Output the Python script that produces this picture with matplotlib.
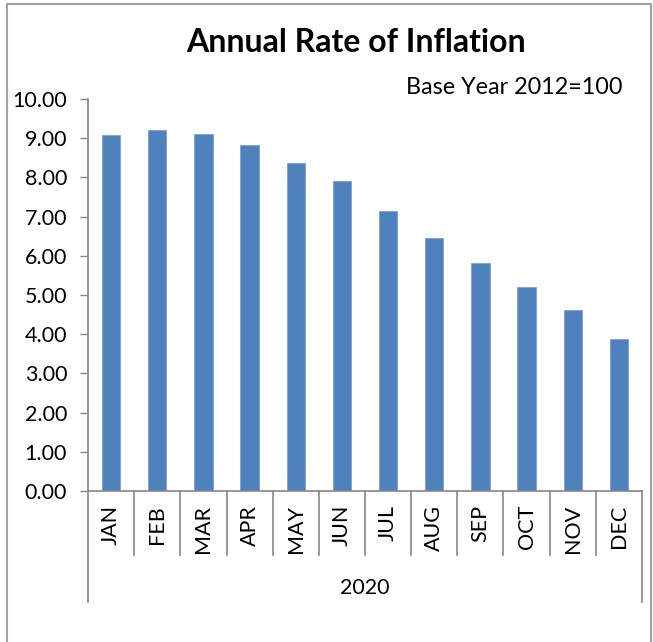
import matplotlib.pyplot as plt
from matplotlib.patches import Rectangle
import matplotlib.transforms as mtransforms

# Daten
months = ["JAN", "FEB", "MAR", "APR", "MAY", "JUN", "JUL", "AUG", "SEP", "OCT", "NOV", "DEC"]
rates = [9.07, 9.20, 9.10, 8.82, 8.37, 7.91, 7.15, 6.45, 5.82, 5.21, 4.61, 3.88]
yticks = [0, 1, 2, 3, 4, 5, 6, 7, 8, 9, 10]
year_label = "2020"

plt.rcParams['font.family'] = ['Lato', 'DejaVu Sans']

W, H = 653, 642
fig = plt.figure(figsize=(W / 100, H / 100), dpi=100)
ax = fig.add_axes([88 / W, 1 - 491 / H, (642 - 88) / W, (491 - 99) / H])

x = list(range(len(months)))
ax.bar(x, rates, width=0.4, color='#4F81BD', edgecolor='#7BA0D4', linewidth=0.6, zorder=2)

ax.set_xlim(-0.5, len(months) - 0.5)
ax.set_ylim(0, 10)
ax.set_yticks(yticks)
ax.set_yticklabels([f"{v:.2f}" for v in yticks], fontsize=15.5)
ax.set_xticks(x)
ax.set_xticklabels(months, rotation=90, fontsize=15.5)
ax.tick_params(axis='x', length=0, pad=10)
ax.tick_params(axis='y', length=6, width=1, color='#868686', direction='out', pad=9)

for s in ['top', 'right']:
    ax.spines[s].set_visible(False)
for s in ['left', 'bottom']:
    ax.spines[s].set_color('#868686')
    ax.spines[s].set_linewidth(1.2)

# Kategorie-Trennlinien unter der Achse
trans = mtransforms.blended_transform_factory(ax.transData, ax.transAxes)
short = -(555 - 491) / 392
long_ = -(602 - 491) / 392
for i in range(len(months) + 1):
    xb = i - 0.5
    y_end = long_ if i in (0, len(months)) else short
    ax.plot([xb, xb], [0, y_end], transform=trans, color='#868686', lw=1.2, clip_on=False)

ax.text(0.5, -(588 - 491) / 392, year_label, transform=ax.transAxes,
        ha='center', va='center', fontsize=15.5)

# Titel und Untertitel
fig.text(356 / W, 1 - 43 / H, "Annual Rate of Inflation", ha='center', va='center',
         fontsize=23, fontweight='bold')
fig.text(623 / W, 1 - 87 / H, "Base Year 2012=100", ha='right', va='center', fontsize=16.8)

# Rahmen
fig.patches.append(Rectangle((7 / W, -0.05), (651 - 7) / W, 1.05 - 4 / H,
                             transform=fig.transFigure, fill=False,
                             edgecolor='#A0A0A0', linewidth=1.5))

fig.savefig("out.png", dpi=100)
